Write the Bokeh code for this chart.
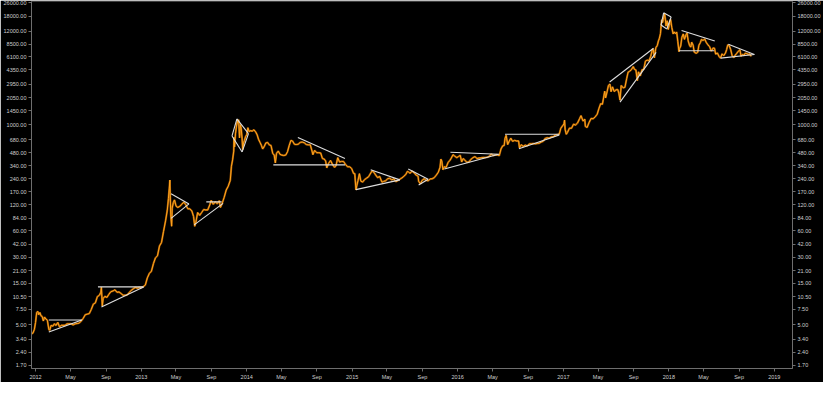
import pandas as pd
from bokeh.plotting import figure
from bokeh.models import Range1d, FixedTicker, PrintfTickFormatter, LogAxis, ColumnDataSource
from bokeh.embed import file_html
from bokeh.resources import INLINE

# ---------------- price data (USD, log scale) ----------------
dates_2011 = ["2011-12-18", "2011-12-23", "2011-12-28"]
prices_2011 = [3.9, 4.0, 4.4]

dates_2012 = ["2012-01-01", "2012-01-05", "2012-01-09", "2012-01-12", "2012-01-16", "2012-01-20",
              "2012-01-24", "2012-01-28", "2012-02-01", "2012-02-06", "2012-02-11", "2012-02-16",
              "2012-02-19", "2012-02-24", "2012-03-01", "2012-03-06", "2012-03-12", "2012-03-18",
              "2012-03-24", "2012-03-30", "2012-04-05", "2012-04-12", "2012-04-19", "2012-04-26",
              "2012-05-03", "2012-05-10", "2012-05-17", "2012-05-24", "2012-05-31", "2012-06-07",
              "2012-06-14", "2012-06-21", "2012-06-28", "2012-07-05", "2012-07-12", "2012-07-19",
              "2012-07-26", "2012-08-02", "2012-08-09", "2012-08-14", "2012-08-16", "2012-08-19",
              "2012-08-22", "2012-08-28", "2012-09-04", "2012-09-11", "2012-09-18", "2012-09-25",
              "2012-10-02", "2012-10-09", "2012-10-16", "2012-10-23", "2012-10-30", "2012-11-06",
              "2012-11-13", "2012-11-20", "2012-11-27", "2012-12-04", "2012-12-11", "2012-12-18",
              "2012-12-25"]
prices_2012 = [5.3, 6.9, 7.1, 6.5, 6.9, 6.3,
               6.2, 5.5, 6.1, 5.8, 5.6, 4.4,
               4.3, 4.9, 4.8, 5.1, 4.9, 5.3,
               4.7, 4.9, 4.9, 4.9, 5.1, 5.1,
               5.1, 4.95, 5.1, 5.15, 5.2, 5.5,
               5.9, 6.5, 6.6, 6.7, 7.5, 8.6,
               8.9, 10.5, 10.9, 11.8, 13.5, 8.2,
               10.0, 10.6, 10.3, 11.2, 12.0, 12.2,
               12.6, 11.8, 11.9, 11.4, 10.9, 10.9,
               11.0, 11.7, 12.4, 12.9, 13.4, 13.2,
               13.4]

dates_2013 = ["2013-01-01", "2013-01-08", "2013-01-15", "2013-01-22", "2013-01-29", "2013-02-05",
              "2013-02-12", "2013-02-19", "2013-02-26", "2013-03-05", "2013-03-12", "2013-03-19",
              "2013-03-26", "2013-04-01", "2013-04-05", "2013-04-08", "2013-04-10", "2013-04-11",
              "2013-04-13", "2013-04-16", "2013-04-18", "2013-04-22", "2013-04-26", "2013-05-01",
              "2013-05-07", "2013-05-14", "2013-05-21", "2013-05-28", "2013-06-04", "2013-06-11",
              "2013-06-18", "2013-06-25", "2013-07-01", "2013-07-05", "2013-07-09", "2013-07-15",
              "2013-07-22", "2013-07-29", "2013-08-05", "2013-08-12", "2013-08-19", "2013-08-26",
              "2013-08-31", "2013-09-07", "2013-09-14", "2013-09-21", "2013-09-28", "2013-10-02",
              "2013-10-08", "2013-10-15", "2013-10-22", "2013-10-29", "2013-11-05", "2013-11-09",
              "2013-11-13", "2013-11-17", "2013-11-18", "2013-11-20", "2013-11-23", "2013-11-27",
              "2013-11-30", "2013-12-02", "2013-12-04", "2013-12-07", "2013-12-10", "2013-12-13",
              "2013-12-16", "2013-12-18", "2013-12-21", "2013-12-24", "2013-12-28"]
prices_2013 = [13.4, 13.7, 14.3, 17.3, 19.5, 20.6,
               25.2, 29.4, 31.0, 40.3, 44.2, 59.4,
               78.5, 104, 142, 187, 232, 160,
               92, 68, 110, 128, 137, 117,
               112, 115, 122, 129, 121, 108,
               108, 102, 88, 68, 76, 98,
               91, 98, 106, 105, 105, 120,
               135, 122, 130, 124, 134, 112,
               125, 147, 178, 197, 230, 335,
               395, 500, 720, 560, 790, 1000,
               1130, 1050, 1150, 710, 1010, 900,
               690, 520, 620, 660, 735]

dates_2014 = ["2014-01-01", "2014-01-05", "2014-01-09", "2014-01-14", "2014-01-20", "2014-01-26",
              "2014-02-01", "2014-02-06", "2014-02-11", "2014-02-16", "2014-02-21", "2014-02-25",
              "2014-03-02", "2014-03-08", "2014-03-14", "2014-03-20", "2014-03-26", "2014-04-01",
              "2014-04-06", "2014-04-10", "2014-04-14", "2014-04-20", "2014-04-26", "2014-05-02",
              "2014-05-09", "2014-05-16", "2014-05-22", "2014-05-28", "2014-06-03", "2014-06-09",
              "2014-06-15", "2014-06-21", "2014-06-28", "2014-07-05", "2014-07-12", "2014-07-19",
              "2014-07-26", "2014-08-02", "2014-08-09", "2014-08-15", "2014-08-18", "2014-08-24",
              "2014-08-31", "2014-09-07", "2014-09-14", "2014-09-20", "2014-09-26", "2014-10-01",
              "2014-10-05", "2014-10-11", "2014-10-18", "2014-10-25", "2014-11-01", "2014-11-06",
              "2014-11-12", "2014-11-18", "2014-11-25", "2014-12-02", "2014-12-09", "2014-12-16",
              "2014-12-23", "2014-12-30"]
prices_2014 = [770, 930, 840, 860, 850, 880,
               830, 770, 680, 630, 580, 530,
               560, 620, 630, 590, 580, 470,
               450, 365, 470, 500, 460, 450,
               445, 450, 490, 580, 665, 650,
               600, 595, 600, 630, 635, 625,
               595, 590, 590, 500, 455, 510,
               480, 480, 475, 410, 405, 385,
               320, 360, 390, 350, 325, 340,
               420, 375, 380, 380, 350, 330,
               330, 315]

dates_2015 = ["2015-01-06", "2015-01-10", "2015-01-14", "2015-01-17", "2015-01-21", "2015-01-26",
              "2015-01-31", "2015-02-06", "2015-02-13", "2015-02-20", "2015-02-27", "2015-03-04",
              "2015-03-11", "2015-03-17", "2015-03-23", "2015-03-30", "2015-04-06", "2015-04-14",
              "2015-04-20", "2015-04-27", "2015-05-04", "2015-05-11", "2015-05-18", "2015-05-25",
              "2015-06-01", "2015-06-08", "2015-06-15", "2015-06-22", "2015-06-29", "2015-07-06",
              "2015-07-11", "2015-07-14", "2015-07-20", "2015-07-27", "2015-08-03", "2015-08-10",
              "2015-08-17", "2015-08-19", "2015-08-25", "2015-08-31", "2015-09-07", "2015-09-14",
              "2015-09-21", "2015-09-28", "2015-10-05", "2015-10-12", "2015-10-19", "2015-10-26",
              "2015-11-01", "2015-11-04", "2015-11-07", "2015-11-11", "2015-11-16", "2015-11-22",
              "2015-11-29", "2015-12-05", "2015-12-10", "2015-12-16", "2015-12-22", "2015-12-29"]
prices_2015 = [275, 275, 178, 200, 228, 275,
               225, 220, 235, 244, 254, 272,
               296, 285, 266, 247, 255, 219,
               224, 228, 240, 243, 233, 239,
               223, 229, 237, 245, 257, 270,
               292, 290, 277, 294, 282, 265,
               257, 224, 210, 230, 240, 230,
               227, 239, 240, 247, 264, 285,
               325, 403, 385, 305, 330, 324,
               370, 390, 415, 455, 437, 420]

dates_2016 = ["2016-01-04", "2016-01-10", "2016-01-15", "2016-01-20", "2016-01-26", "2016-02-02",
              "2016-02-09", "2016-02-16", "2016-02-23", "2016-03-01", "2016-03-08", "2016-03-15",
              "2016-03-22", "2016-03-29", "2016-04-05", "2016-04-12", "2016-04-19", "2016-04-26",
              "2016-05-03", "2016-05-10", "2016-05-17", "2016-05-24", "2016-05-30", "2016-06-05",
              "2016-06-10", "2016-06-13", "2016-06-17", "2016-06-22", "2016-06-27", "2016-07-03",
              "2016-07-09", "2016-07-16", "2016-07-23", "2016-07-30", "2016-08-02", "2016-08-08",
              "2016-08-15", "2016-08-22", "2016-08-29", "2016-09-05", "2016-09-12", "2016-09-19",
              "2016-09-26", "2016-10-03", "2016-10-10", "2016-10-17", "2016-10-24", "2016-10-30",
              "2016-11-06", "2016-11-13", "2016-11-20", "2016-11-27", "2016-12-04", "2016-12-11",
              "2016-12-18", "2016-12-23", "2016-12-29"]
prices_2016 = [433, 447, 375, 410, 392, 372,
               375, 402, 420, 432, 410, 416,
               418, 423, 422, 424, 434, 462,
               446, 450, 453, 443, 529, 575,
               578, 700, 760, 595, 645, 705,
               648, 665, 655, 655, 545, 592,
               567, 586, 574, 606, 607, 610,
               606, 612, 617, 637, 653, 700,
               711, 703, 730, 733, 766, 770,
               790, 915, 975]

dates_2017 = ["2017-01-03", "2017-01-05", "2017-01-07", "2017-01-11", "2017-01-15", "2017-01-22",
              "2017-01-29", "2017-02-05", "2017-02-12", "2017-02-19", "2017-02-26", "2017-03-03",
              "2017-03-10", "2017-03-16", "2017-03-18", "2017-03-24", "2017-03-31", "2017-04-07",
              "2017-04-14", "2017-04-21", "2017-04-28", "2017-05-04", "2017-05-10", "2017-05-16",
              "2017-05-20", "2017-05-24", "2017-05-27", "2017-06-01", "2017-06-06", "2017-06-11",
              "2017-06-15", "2017-06-20", "2017-06-26", "2017-07-02", "2017-07-08", "2017-07-12",
              "2017-07-16", "2017-07-20", "2017-07-27", "2017-08-02", "2017-08-08", "2017-08-13",
              "2017-08-18", "2017-08-24", "2017-08-31", "2017-09-04", "2017-09-09", "2017-09-14",
              "2017-09-18", "2017-09-24", "2017-09-30", "2017-10-06", "2017-10-12", "2017-10-18",
              "2017-10-24", "2017-10-30", "2017-11-05", "2017-11-08", "2017-11-12", "2017-11-17",
              "2017-11-22", "2017-11-26", "2017-11-29", "2017-12-03", "2017-12-07", "2017-12-10",
              "2017-12-13", "2017-12-17", "2017-12-20", "2017-12-22", "2017-12-26", "2017-12-30"]
prices_2017 = [1033, 1140, 890, 780, 820, 920,
               915, 1020, 1000, 1055, 1180, 1280,
               1110, 1170, 965, 935, 1070, 1190,
               1180, 1240, 1330, 1550, 1760, 1730,
               2050, 2450, 2050, 2400, 2860, 2960,
               2420, 2750, 2430, 2540, 2560, 2330,
               1930, 2850, 2680, 2720, 3420, 4070,
               4150, 4330, 4700, 4370, 4310, 3250,
               4100, 3670, 4340, 4370, 5440, 5590,
               5500, 6130, 7400, 7460, 5950, 7790,
               8230, 9330, 9890, 11300, 16300, 15100,
               16400, 19300, 16600, 13800, 15900, 12600]

dates_2018 = ["2018-01-04", "2018-01-07", "2018-01-11", "2018-01-16", "2018-01-19", "2018-01-24",
              "2018-01-28", "2018-02-01", "2018-02-05", "2018-02-07", "2018-02-11", "2018-02-15",
              "2018-02-20", "2018-02-24", "2018-03-01", "2018-03-05", "2018-03-09", "2018-03-14",
              "2018-03-18", "2018-03-21", "2018-03-26", "2018-03-30", "2018-04-06", "2018-04-11",
              "2018-04-15", "2018-04-20", "2018-04-24", "2018-04-29", "2018-05-05", "2018-05-10",
              "2018-05-16", "2018-05-22", "2018-05-28", "2018-06-03", "2018-06-08", "2018-06-12",
              "2018-06-18", "2018-06-24", "2018-06-29", "2018-07-04", "2018-07-10", "2018-07-16",
              "2018-07-20", "2018-07-24", "2018-07-29", "2018-08-03", "2018-08-08", "2018-08-14",
              "2018-08-19", "2018-08-24", "2018-08-29", "2018-09-04", "2018-09-08", "2018-09-13",
              "2018-09-18", "2018-09-22", "2018-09-28", "2018-10-03", "2018-10-08", "2018-10-11",
              "2018-10-14"]
prices_2018 = [15200, 16500, 13400, 11200, 11800, 11300,
               11800, 9200, 7000, 7600, 8100, 10200,
               11200, 9700, 10900, 11500, 9300, 8200,
               7900, 9000, 8300, 6900, 6700, 6900,
               8300, 8900, 9700, 9400, 9800, 9000,
               8400, 8000, 7100, 7700, 7650, 6550,
               6750, 6150, 5900, 6600, 6300, 6750,
               7400, 8400, 8200, 7400, 6300, 6000,
               6400, 6700, 7050, 7350, 6200, 6500,
               6350, 6700, 6650, 6500, 6600, 6250,
               6330]

# ---------------- pattern lines (start date, start price, end date, end price) ----------------
line_x0 = ["2012-02-16", "2012-02-16", "2012-08-04", "2012-08-16", "2013-04-14", "2013-04-14",
           "2013-07-03", "2013-08-14", "2013-11-11", "2013-11-28", "2014-01-07", "2013-12-16",
           "2014-04-03", "2014-06-27", "2015-01-14", "2015-03-06", "2015-07-14", "2015-08-19",
           "2015-12-07", "2015-11-16", "2016-06-13", "2016-07-31", "2017-06-10", "2017-07-16",
           "2017-12-14", "2018-01-09", "2017-12-25", "2017-12-05", "2018-02-14", "2018-02-05",
           "2018-07-26", "2018-06-29"]
line_y0 = [5.65, 4.12, 13.6, 7.96, 161, 84,
           70.5, 130, 748, 1177, 795, 489,
           347, 718, 180, 305, 311, 203,
           484, 311, 781, 532, 3133, 1831,
           19620, 17580, 12800, 14180, 12290, 7180,
           8500, 5900]
line_x1 = ["2012-06-09", "2012-06-09", "2013-01-09", "2013-01-09", "2013-06-15", "2013-06-15",
           "2013-10-11", "2013-10-06", "2013-11-28", "2014-01-07", "2013-12-16", "2013-11-11",
           "2014-12-07", "2014-12-07", "2015-06-15", "2015-06-15", "2015-09-21", "2015-09-21",
           "2016-05-22", "2016-05-22", "2016-12-18", "2016-12-18", "2017-11-09", "2017-11-18",
           "2018-01-09", "2017-12-25", "2017-12-05", "2017-12-14", "2018-06-09", "2018-06-07",
           "2018-10-24", "2018-10-24"]
line_y1 = [5.65, 5.65, 13.6, 13.6, 123, 123,
           125, 130, 1177, 795, 489, 748,
           347, 412, 233, 233, 237, 237,
           460, 460, 781, 767, 7674, 6873,
           17580, 12800, 14180, 19620, 9280, 7180,
           6480, 6480]

# ---------------- axis ticks ----------------
y_ticks = [1.70, 2.40, 3.40, 5.00, 7.50, 10.50, 15.00, 21.00, 30.00, 42.00, 60.00, 84.00,
           120.00, 170.00, 240.00, 340.00, 480.00, 680.00, 1000.00, 1450.00, 2050.00,
           2950.00, 4350.00, 6100.00, 8500.00, 12000.00, 18000.00, 26000.00]
x_tick_dates = ["2012-01-01", "2012-05-01", "2012-09-01", "2013-01-01", "2013-05-01", "2013-09-01",
                "2014-01-01", "2014-05-01", "2014-09-01", "2015-01-01", "2015-05-01", "2015-09-01",
                "2016-01-01", "2016-05-01", "2016-09-01", "2017-01-01", "2017-05-01", "2017-09-01",
                "2018-01-01", "2018-05-01", "2018-09-01", "2019-01-01"]
x_tick_labels = ["2012", "May", "Sep", "2013", "May", "Sep", "2014", "May", "Sep", "2015", "May", "Sep",
                 "2016", "May", "Sep", "2017", "May", "Sep", "2018", "May", "Sep", "2019"]

# ---------------- build ----------------
all_dates = dates_2011 + dates_2012 + dates_2013 + dates_2014 + dates_2015 + dates_2016 + dates_2017 + dates_2018
all_prices = prices_2011 + prices_2012 + prices_2013 + prices_2014 + prices_2015 + prices_2016 + prices_2017 + prices_2018

src = ColumnDataSource(data=dict(x=pd.to_datetime(all_dates), y=all_prices))
seg = ColumnDataSource(data=dict(x0=pd.to_datetime(line_x0), y0=line_y0,
                                 x1=pd.to_datetime(line_x1), y1=line_y1))

p = figure(width=823, height=382, x_axis_type="datetime", y_axis_type="log",
           x_range=Range1d(pd.Timestamp("2011-12-18"), pd.Timestamp("2019-03-05")),
           y_range=Range1d(1.56, 26500),
           output_backend="svg", toolbar_location=None,
           background_fill_color="black", border_fill_color="black",
           min_border_left=0, min_border_right=0, min_border_top=1, min_border_bottom=0)
p.grid.visible = False
p.outline_line_color = None

p.line("x", "y", source=src, line_color="#9a5200", line_width=2.0)
p.line("x", "y", source=src, line_color="#ffa51f", line_width=1.0)
p.segment("x0", "y0", "x1", "y1", source=seg, line_color="#dedede", line_width=1.1)

tick_ms = [int(pd.Timestamp(d).value // 10**6) for d in x_tick_dates]
p.xaxis.ticker = FixedTicker(ticks=tick_ms)
p.xaxis.major_label_overrides = {t: lab for t, lab in zip(tick_ms, x_tick_labels)}

p.yaxis.ticker = FixedTicker(ticks=y_ticks)
p.yaxis.formatter = PrintfTickFormatter(format="%.2f")
right_axis = LogAxis(ticker=FixedTicker(ticks=y_ticks), formatter=PrintfTickFormatter(format="%.2f"))
p.add_layout(right_axis, "right")

for ax in [p.xaxis[0], p.yaxis[0], right_axis]:
    ax.axis_line_color = "#6e6e6e"
    ax.major_tick_line_color = "#6e6e6e"
    ax.minor_tick_line_color = None
    ax.major_tick_out = 3
    ax.major_tick_in = 0
    ax.major_label_standoff = 2
    ax.major_label_text_color = "#cfcfcf"
    ax.major_label_text_font = "Liberation Sans"
    ax.major_label_text_font_size = "5.5px"

open("out.html", "w").write(file_html(p, INLINE))
